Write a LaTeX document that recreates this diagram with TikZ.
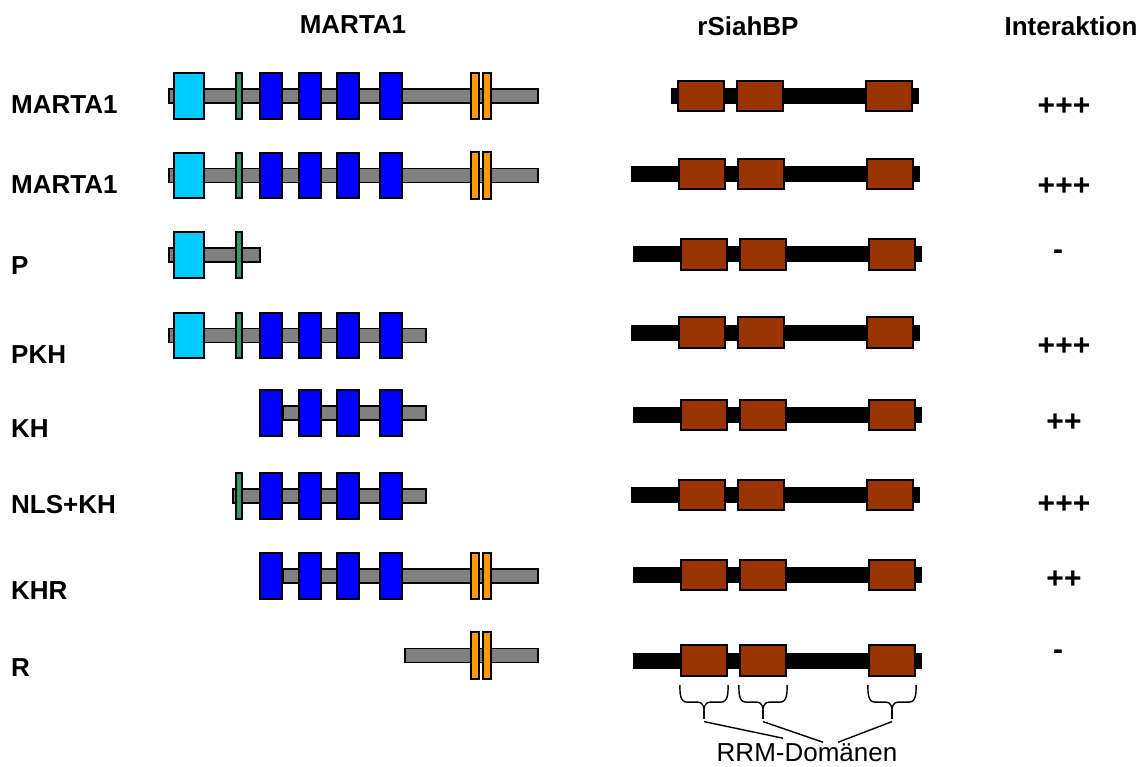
\documentclass[tikz,border=0pt]{standalone}
\usepackage{fontspec}
\setmainfont{Liberation Sans}
\definecolor{pcyan}{HTML}{00CCFF}
\definecolor{nlsgreen}{HTML}{339966}
\definecolor{rggorange}{HTML}{FF9900}
\definecolor{rrmbrown}{HTML}{993300}
\definecolor{bargray}{HTML}{808080}
\begin{document}
\begin{tikzpicture}[x=1pt,y=-1pt,
  lab/.style={font=\fontsize{26}{30}\selectfont\bfseries,inner sep=0pt},
  intlab/.style={font=\fontsize{30}{34}\selectfont\bfseries,inner sep=0pt},
  rrmlabel/.style={font=\fontsize{26}{30}\selectfont,inner sep=0pt},
  dom/.style={draw=black,line width=1.7pt,inner sep=0pt,minimum height=45.5pt},
  pbox/.style={dom,fill=pcyan,minimum width=30.5pt},
  nlsbox/.style={dom,fill=nlsgreen,minimum width=6.5pt},
  khbox/.style={dom,fill=blue,minimum width=22.5pt},
  rggbox/.style={dom,fill=rggorange,minimum width=8.5pt,minimum height=46.5pt},
  rrmbox/.style={dom,fill=rrmbrown,minimum width=46.5pt,minimum height=30.5pt},
  mbar/.style={draw=black,line width=1.7pt,fill=bargray},
  sbar/.style={fill=black},
  conn/.style={line width=1.4pt}
]
\useasboundingbox (0,0) rectangle (1145,767);

% headers
\node[lab] (hmarta) at (353,25) {MARTA1};
\node[lab] (hsiah) at (748,26) {rSiahBP};
\node[lab] (hinter) at (1071,26) {Interaktion};

% construct names
\foreach \r/\y/\t in {1/104.5/MARTA1,2/185/MARTA1,3/266/P,4/355/PKH,5/429/KH,6/505/NLS+KH,7/591/KHR,8/668/R}
  \node[lab,anchor=west] (name\r) at (11,\y) {\t};

% MARTA1 backbones
\foreach \r/\y/\a/\b in {1/96/169/538,2/175.5/169/538,3/255/169/260,4/335.5/169/426,5/413/283/426,6/496/233/426,7/576/283/538,8/655.5/405/538}
  \draw[mbar] (\a,\y-7) rectangle (\b,\y+7);

% domains
\foreach \r/\y in {1/96,2/175.5,3/255,4/335.5}
  \node[pbox] (p\r) at (189,\y) {};
\foreach \r/\y in {1/96,2/175.5,3/255,4/335.5,6/496}
  \node[nlsbox] (nls\r) at (239,\y) {};
\foreach \r/\y in {1/96,2/175.5,4/335.5,5/413,6/496,7/576}
  \foreach \x [count=\i] in {271,310,348,391}
    \node[khbox] (kh\r\i) at (\x,\y) {};
\foreach \r/\y in {1/96,2/175.5,7/576,8/655.5}{
  \node[rggbox] (rgg\r1) at (475,\y) {};
  \node[rggbox] (rgg\r2) at (487,\y) {};
}

% rSiahBP
\foreach \r/\y/\s/\e in {1/96/677/671,2/174/678/631,3/254.5/680/633,4/332.5/678/631,5/415/680/633,6/495/678/631,7/575/680/633,8/660.5/680/633}{
  \fill[sbar] (\e,\y-8) rectangle (\s+242,\y+8);
  \node[rrmbox] (rrm\r1) at (\s+24,\y) {};
  \node[rrmbox] (rrm\r2) at (\s+83,\y) {};
  \node[rrmbox] (rrm\r3) at (\s+212,\y) {};
}

% interaction
\foreach \r/\y/\x/\t in {1/107/1064/+++,2/187/1064/+++,3/255/1058/-,4/347/1064/+++,5/423/1064/++,6/505/1064/+++,7/580/1064/++,8/655/1058/-}
  \node[intlab] (int\r) at (\x,\y) {\t};

% RRM braces
\node[rrmlabel] (rrmlab) at (807,753) {RRM-Domänen};
\foreach \b in {rrm81,rrm82,rrm83}{
  \draw[conn] ([yshift=-8.5pt]\b.south west) to[out=-90,in=180] ([xshift=7pt,yshift=-25.5pt]\b.south west)
    -- ([xshift=-6pt,yshift=-25.5pt]\b.south) to[out=0,in=90] ([yshift=-33pt]\b.south)
    to[out=90,in=180] ([xshift=6pt,yshift=-25.5pt]\b.south)
    -- ([xshift=-7pt,yshift=-25.5pt]\b.south east) to[out=0,in=-90] ([yshift=-8.5pt]\b.south east);
  \draw[conn] ([yshift=-33pt]\b.south) -- ([yshift=-42pt]\b.south);
  \coordinate (\b-tip) at ([yshift=-45pt]\b.south);
}
\draw[conn] (rrm81-tip) -- ([xshift=-24pt,yshift=5.5pt]rrmlab.north);
\draw[conn] (rrm82-tip) -- ([xshift=16pt,yshift=1.5pt]rrmlab.north);
\draw[conn] (rrm83-tip) -- ([xshift=31pt,yshift=1.5pt]rrmlab.north);
\end{tikzpicture}
\end{document}
